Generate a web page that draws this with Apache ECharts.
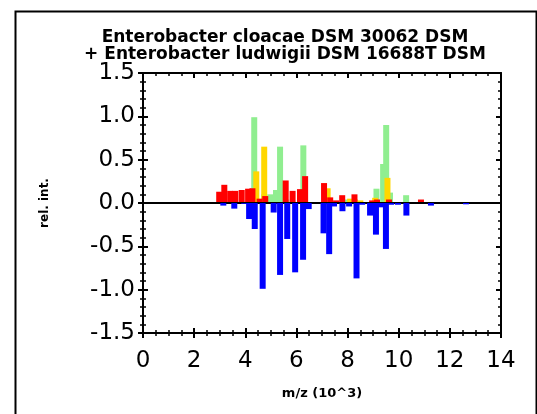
<!DOCTYPE html>
<html>
<head>
<meta charset="utf-8">
<script src="https://cdn.jsdelivr.net/npm/echarts@6/dist/echarts.min.js"></script>
<style>html,body{margin:0;padding:0;background:#fff}#c{width:537px;height:414px}</style>
</head>
<body>
<div id="c"></div>
<script>
// ---- data (m/z in 10^3, relative intensity) ----
const greenX = [4.35, 4.74, 4.98, 5.20, 5.36, 5.60, 6.27, 8.02, 9.13, 9.39, 9.51, 9.66, 10.29];
const greenY = [0.99, 0.10, 0.10, 0.15, 0.65, 0.04, 0.665, 0.04, 0.165, 0.45, 0.90, 0.12, 0.09];

const yellowX = [4.43, 4.74, 7.22, 8.10, 8.29, 8.50, 9.08, 9.56];
const yellowY = [0.365, 0.65, 0.17, 0.05, 0.04, 0.03, 0.06, 0.29];

const redX = [2.98, 3.18, 3.41, 3.61, 3.86, 4.11, 4.28, 4.56, 4.78, 5.58, 5.85, 6.14, 6.34, 7.08, 7.32, 7.55, 7.79, 8.27, 8.96, 9.15, 9.62, 10.87];
const redY = [0.13, 0.21, 0.14, 0.14, 0.15, 0.165, 0.17, 0.05, 0.08, 0.26, 0.14, 0.16, 0.31, 0.23, 0.065, 0.03, 0.09, 0.10, 0.03, 0.04, 0.04, 0.04];

const blueX = [3.14, 3.57, 3.96, 4.15, 4.37, 4.68, 5.11, 5.36, 5.64, 5.95, 6.26, 6.48, 7.06, 7.28, 7.47, 7.80, 8.06, 8.35, 8.57, 8.88, 9.11, 9.27, 9.50, 9.70, 9.97, 10.30, 11.26, 12.63];
const blueY = [-0.03, -0.065, -0.01, -0.185, -0.30, -0.99, -0.11, -0.83, -0.415, -0.80, -0.655, -0.07, -0.35, -0.59, -0.04, -0.095, -0.04, -0.87, -0.02, -0.145, -0.365, -0.05, -0.53, -0.02, -0.02, -0.145, -0.03, -0.015];

const xTicks = [0, 2, 4, 6, 8, 10, 12, 14];
const yTicks = [-1.5, -1.0, -0.5, 0.0, 0.5, 1.0, 1.5];

const titleText = 'Enterobacter cloacae DSM 30062 DSM\n+ Enterobacter ludwigii DSM 16688T DSM';
const xName = 'm/z (10^3)';
const yName = 'rel. int.';

const pairs = (xs, ys) => xs.map((x, i) => [x, ys[i]]);
const FONT = 'DejaVu Sans';

const chart = echarts.init(document.getElementById('c'), null, {renderer: 'canvas'});

function xAx(extra) {
  return Object.assign({
    type: 'value', min: xTicks[0], max: xTicks[xTicks.length - 1], interval: 2,
    splitLine: {show: false},
    axisLine: {show: false, onZero: false, lineStyle: {color: '#000', width: 2}},
    axisTick: {show: true, length: 5, lineStyle: {color: '#000', width: 2}},
    minorTick: {show: true, splitNumber: 4, length: 3, lineStyle: {color: '#000', width: 1.5}},
    axisLabel: {show: false}
  }, extra);
}
function yAx(extra) {
  return Object.assign({
    type: 'value', min: yTicks[0], max: yTicks[yTicks.length - 1], interval: 0.5,
    splitLine: {show: false},
    axisLine: {show: false, onZero: false, lineStyle: {color: '#000', width: 2}},
    axisTick: {show: true, length: 5, lineStyle: {color: '#000', width: 2}},
    minorTick: {show: true, splitNumber: 5, length: 3, lineStyle: {color: '#000', width: 1.5}},
    axisLabel: {show: false}
  }, extra);
}

const barBase = {type: 'bar', barWidth: 6, barGap: '-100%', xAxisIndex: 0, yAxisIndex: 0, animation: false};

chart.setOption({
  animation: false,
  backgroundColor: '#fff',
  title: {
    text: titleText, left: 280, top: 24, textAlign: 'center',
    textStyle: {fontFamily: FONT, fontWeight: 'bold', fontSize: 17, lineHeight: 17, color: '#000'}
  },
  grid: {left: 143, right: 36, top: 73, bottom: 81, containLabel: false},
  xAxis: [
    xAx({position: 'bottom',
      axisLine: {show: true, onZero: false, lineStyle: {color: '#000', width: 2}},
      axisTick: {show: true, inside: false, length: 5, lineStyle: {color: '#000', width: 2}},
      minorTick: {show: true, splitNumber: 4, length: 3, lineStyle: {color: '#000', width: 1.5}},
      axisLabel: {show: true, fontFamily: FONT, fontSize: 23, color: '#000', margin: 17},
      name: xName, nameLocation: 'middle', nameGap: 54,
      nameTextStyle: {fontFamily: FONT, fontWeight: 'bold', fontSize: 13, color: '#000'}
    }),
    xAx({position: 'bottom', axisTick: {show: true, inside: true, length: 5, lineStyle: {color: '#000', width: 2}},
      minorTick: {show: true, splitNumber: 4, length: 3, lineStyle: {color: '#000', width: 1.5}}}),
    xAx({position: 'top', axisLine: {show: true, onZero: false, lineStyle: {color: '#000', width: 2}},
      axisTick: {show: true, inside: true, length: 5, lineStyle: {color: '#000', width: 2}},
      minorTick: {show: true, splitNumber: 4, length: 3, lineStyle: {color: '#000', width: 1.5}}})
  ],
  yAxis: [
    yAx({position: 'left',
      axisLine: {show: true, onZero: false, lineStyle: {color: '#000', width: 2}},
      axisTick: {show: true, inside: false, length: 5, lineStyle: {color: '#000', width: 2}},
      minorTick: {show: true, splitNumber: 5, length: 3, lineStyle: {color: '#000', width: 1.5}},
      axisLabel: {show: true, fontFamily: FONT, fontSize: 23, color: '#000', margin: 8,
        formatter: v => v.toFixed(1)},
      name: yName, nameLocation: 'middle', nameGap: 92, nameRotate: 90,
      nameTextStyle: {fontFamily: FONT, fontWeight: 'bold', fontSize: 12, color: '#000'}
    }),
    yAx({position: 'left', axisTick: {show: true, inside: true, length: 5, lineStyle: {color: '#000', width: 2}},
      minorTick: {show: true, splitNumber: 5, length: 3, lineStyle: {color: '#000', width: 1.5}}}),
    yAx({position: 'right', axisLine: {show: true, onZero: false, lineStyle: {color: '#000', width: 2}},
      axisTick: {show: true, inside: true, length: 5, lineStyle: {color: '#000', width: 2}},
      minorTick: {show: true, splitNumber: 5, length: 3, lineStyle: {color: '#000', width: 1.5}}})
  ],
  series: [
    Object.assign({}, barBase, {name: 'green', data: pairs(greenX, greenY), itemStyle: {color: '#90EE90'}, z: 2}),
    Object.assign({}, barBase, {name: 'yellow', data: pairs(yellowX, yellowY), itemStyle: {color: '#FFD700'}, z: 3}),
    Object.assign({}, barBase, {name: 'red', data: pairs(redX, redY), itemStyle: {color: '#FF0000'}, z: 4}),
    Object.assign({}, barBase, {name: 'blue', data: pairs(blueX, blueY), itemStyle: {color: '#0000FF'}, z: 5,
      markLine: {silent: true, symbol: ['none', 'none'], label: {show: false},
        lineStyle: {color: '#000', width: 2, type: 'solid'}, data: [{yAxis: 0}]}})
  ],
  graphic: [{
    type: 'rect', left: 13, top: 9, silent: true,
    shape: {width: 521, height: 430},
    style: {fill: 'none', stroke: '#000', lineWidth: 2}
  }]
});
</script>
</body>
</html>
